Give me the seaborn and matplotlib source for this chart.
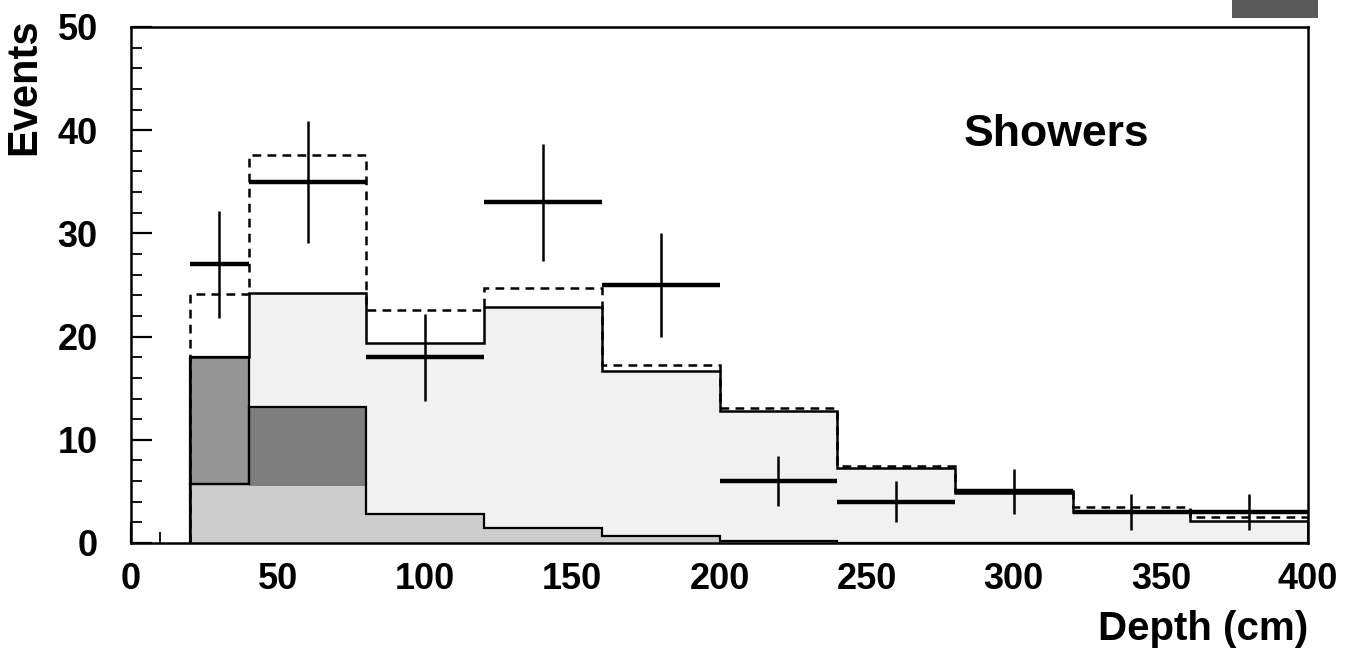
import numpy as np
import pandas as pd
import matplotlib
matplotlib.use("Agg")
import matplotlib.pyplot as plt
from matplotlib.ticker import MultipleLocator
from matplotlib.patches import Rectangle
import seaborn as sns

# ---------------- data ----------------
bin_edges = [20, 40, 80, 120, 160, 200, 240, 280, 320, 360, 400]
data_counts = [27, 35, 18, 33, 25, 6, 4, 5, 3, 3]
data_errors = [5.2, 5.9, 4.2, 5.7, 5.0, 2.4, 2.0, 2.2, 1.7, 1.7]
total_mc = [24.1, 37.6, 22.6, 24.7, 17.2, 13.1, 7.5, 5.0, 3.5, 2.5]   # dashed
main_mc = [18.0, 24.2, 19.4, 22.9, 16.7, 12.8, 7.3, 4.8, 3.0, 2.1]    # upper solid
low_mc = [5.7, 13.2, 2.8, 1.5, 0.7, 0.2, 0.0, 0.0, 0.0, 0.0]         # lower solid
low_light = [5.7, 5.5, 2.8, 1.5, 0.7, 0.2, 0.0, 0.0, 0.0, 0.0]       # light part of lower
box_edges = [20, 40]
box_low = [5.7]
box_high = [18.0]

x_label = "Depth (cm)"
y_label = "Events"
title_text = "Showers"

# ---------------- style ----------------
sns.set_theme(style="ticks")
plt.rcParams["font.family"] = ["Liberation Sans", "DejaVu Sans"]
plt.rcParams["font.weight"] = "bold"
plt.rcParams["axes.labelweight"] = "bold"
plt.rcParams["text.color"] = "black"
plt.rcParams["axes.labelcolor"] = "black"
plt.rcParams["xtick.color"] = "black"
plt.rcParams["ytick.color"] = "black"
plt.rcParams["xtick.labelcolor"] = "black"
plt.rcParams["ytick.labelcolor"] = "black"

centers = [(a + b) / 2 for a, b in zip(bin_edges[:-1], bin_edges[1:])]
half_w = [(b - a) / 2 for a, b in zip(bin_edges[:-1], bin_edges[1:])]
df = pd.DataFrame({"depth": centers, "total": total_mc, "main": main_mc,
                   "low": low_mc, "low_light": low_light,
                   "data": data_counts, "err": data_errors})

W, H = 1354, 656
fig = plt.figure(figsize=(W / 100, H / 100), dpi=100)
ax = fig.add_axes([131 / W, 1 - 543 / H, (1308 - 131) / W, (543 - 27) / H])

# filled components (seaborn step histograms with weights)
sns.histplot(data=df, x="depth", weights="main", bins=bin_edges, element="step",
             fill=True, color="#f1f1f1", alpha=1, linewidth=0, ax=ax)
sns.histplot(data=df, x="depth", weights="low", bins=bin_edges, element="step",
             fill=True, color="#7e7e7e", alpha=1, linewidth=0, ax=ax)
sns.histplot(data=df, x="depth", weights="low_light", bins=bin_edges, element="step",
             fill=True, color="#cdcdcd", alpha=1, linewidth=0, ax=ax)
ax.bar([(box_edges[0] + box_edges[1]) / 2], [box_high[0] - box_low[0]],
       width=box_edges[1] - box_edges[0], bottom=box_low, color="#959595",
       edgecolor="black", linewidth=1.6, zorder=3)

# outlines
ax.stairs(main_mc, bin_edges, baseline=0, color="black", linewidth=1.8, zorder=4)
ax.stairs(low_mc, bin_edges, baseline=0, color="black", linewidth=1.6, zorder=4)
ax.stairs(total_mc, bin_edges, baseline=0, color="black", linewidth=1.8,
          linestyle=(0, (3.5, 2.5)), zorder=4)

# data crosses
ax.errorbar(df["depth"], df["data"], xerr=half_w, fmt="none", ecolor="black",
            elinewidth=3.2, capsize=0, zorder=5)
ax.errorbar(df["depth"], df["data"], yerr=df["err"], fmt="none", ecolor="black",
            elinewidth=1.8, capsize=0, zorder=5)

ax.text(283, 39.6, title_text, fontsize=32, fontweight="bold", va="center",
        ha="left", color="black")

# axes
ax.set_xlim(0, 400)
ax.set_ylim(0, 50)
ax.xaxis.set_major_locator(MultipleLocator(50))
ax.xaxis.set_minor_locator(MultipleLocator(10))
ax.yaxis.set_major_locator(MultipleLocator(10))
ax.yaxis.set_minor_locator(MultipleLocator(2))
ax.tick_params(which="both", direction="in", top=False, right=False,
               color="black", labelcolor="black")
ax.tick_params(which="major", length=15, width=1.6, labelsize=26)
ax.tick_params(which="minor", length=8, width=1.3)
ax.tick_params(axis="y", which="major", pad=24)
ax.tick_params(axis="x", which="major", pad=14)
for sp in ax.spines.values():
    sp.set_visible(True)
    sp.set_linewidth(1.8)
    sp.set_color("black")

ax.set_xlabel(x_label, fontsize=29, fontweight="bold", loc="right", color="black")
ax.set_ylabel(y_label, fontsize=30, fontweight="bold", loc="top", color="black")
ax.xaxis.set_label_coords(1.0, -0.13)
ax.yaxis.set_label_coords(-0.074, 1.017)

# cut-off legend patch at the top right
fig.patches.append(Rectangle((1232 / W, 1 - 18 / H), 86 / W, 18 / H,
                             transform=fig.transFigure, facecolor="#5a5a5a",
                             edgecolor="none"))

fig.savefig("out.png", dpi=100)
